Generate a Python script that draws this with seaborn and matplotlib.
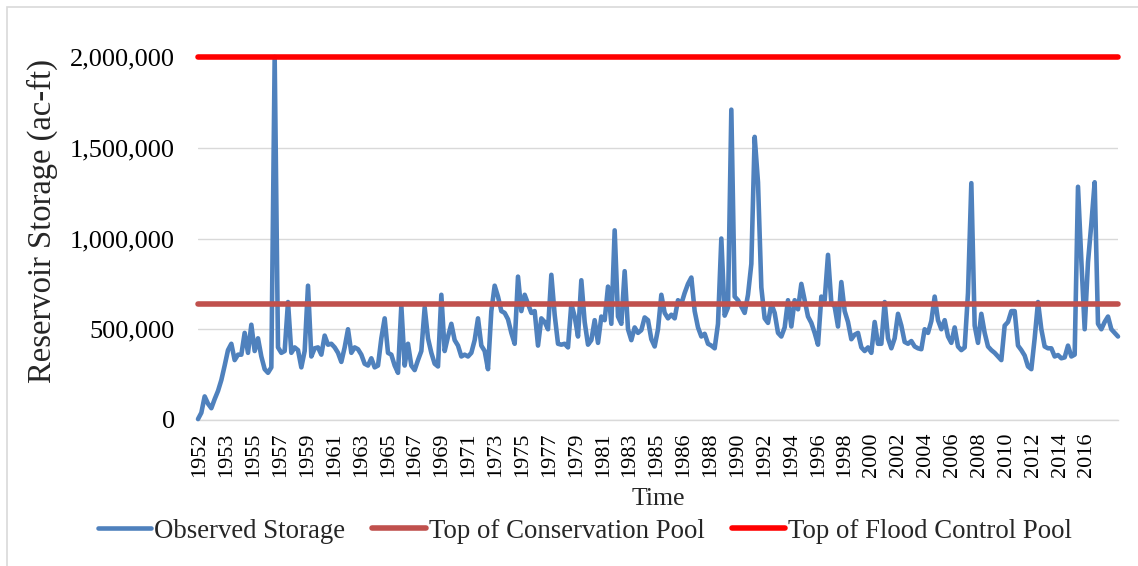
import numpy as np
import pandas as pd
import matplotlib
matplotlib.use("Agg")
import matplotlib.pyplot as plt
import seaborn as sns
from matplotlib.patches import Rectangle

# Observed storage (thousand ac-ft), sampled at equal steps along the time axis
storage_k = [
    5, 40, 130, 90, 65, 115, 160, 220, 300, 385,
    420, 330, 360, 360, 480, 370, 525, 380, 450, 350,
    280, 260, 290, 2000, 400, 370, 380, 650, 370, 400,
    385, 290, 380, 740, 350, 395, 400, 360, 465, 415,
    420, 400, 370, 320, 400, 500, 370, 400, 390, 360,
    310, 300, 340, 290, 300, 450, 560, 370, 360, 300,
    260, 630, 300, 420, 300, 275, 330, 380, 620, 450,
    370, 310, 295, 690, 380, 460, 530, 440, 410, 350,
    360, 350, 370, 440, 560, 410, 380, 280, 600, 740,
    680, 600, 590, 555, 480, 420, 790, 600, 690, 640,
    590, 600, 410, 560, 540, 500, 800, 580, 420, 415,
    420, 400, 640, 570, 460, 770, 540, 415, 440, 550,
    425, 570, 550, 735, 530, 1045, 570, 530, 820, 500,
    440, 510, 480, 495, 565, 550, 445, 405, 500, 690,
    590, 560, 580, 560, 660, 640, 700, 750, 785, 600,
    510, 460, 475, 420, 410, 395, 530, 1000, 575, 620,
    1710, 680, 660, 625, 590, 690, 860, 1560, 1310, 730,
    560, 535, 640, 590, 480, 460, 510, 660, 515, 660,
    610, 750, 660, 570, 535, 480, 415, 680, 660, 910,
    645, 625, 515, 760, 600, 540, 445, 470, 480, 400,
    380, 400, 370, 540, 420, 420, 650, 450, 395, 450,
    585, 520, 430, 420, 435, 405, 395, 390, 500, 480,
    545, 680, 550, 500, 550, 460, 425, 510, 405, 385,
    400, 700, 1305, 520, 425, 585, 480, 405, 385, 370,
    350, 330, 520, 540, 600, 600, 410, 385, 355, 295,
    280, 450, 650, 500, 405, 395, 395, 350, 358, 340,
    345, 410, 350, 360, 1285, 880, 500, 870, 1080, 1310,
    530, 500, 540, 570, 500, 480, 460,
]
conservation_pool = 638000
flood_control_pool = 2000000

year_labels = [
    "1952", "1953", "1955", "1957", "1959", "1961", "1963", "1965", "1967",
    "1969", "1971", "1973", "1975", "1977", "1979", "1981", "1983", "1985",
    "1986", "1988", "1990", "1992", "1994", "1996", "1998", "2000", "2002",
    "2004", "2006", "2008", "2010", "2012", "2014", "2016",
]
y_ticks = [0, 500000, 1000000, 1500000, 2000000]

n = len(storage_k)
step = np.arange(n)
df = pd.DataFrame({
    "step": step,
    "Observed Storage": np.array(storage_k) * 1000,
    "Top of Conservation Pool": np.full(n, conservation_pool),
    "Top of Flood Control Pool": np.full(n, flood_control_pool),
})

sns.set_theme(style="white")
plt.rcParams["font.family"] = ["Liberation Serif", "DejaVu Serif"]

fig = plt.figure(figsize=(11.38, 5.66), dpi=100)
ax = fig.add_axes([198 / 1138, 1 - 420 / 566, 920 / 1138, 363 / 566])

sns.lineplot(data=df, x="step", y="Observed Storage", ax=ax, color="#4F81BD",
             linewidth=3.3, label="Observed Storage", clip_on=False, zorder=3)
sns.lineplot(data=df, x="step", y="Top of Conservation Pool", ax=ax, color="#C0504D",
             linewidth=4.0, label="Top of Conservation Pool", clip_on=False, zorder=4)
sns.lineplot(data=df, x="step", y="Top of Flood Control Pool", ax=ax, color="#FF0000",
             linewidth=4.0, label="Top of Flood Control Pool", clip_on=False, zorder=4)

ax.set_xlim(0, n - 1)
ax.set_ylim(0, 2000000)
ax.set_yticks(y_ticks)
ax.set_yticklabels([f"{v:,}" for v in y_ticks], fontsize=19)
tick_pos = np.linspace(0.6, 266.7, len(year_labels))
ax.set_xticks(tick_pos)
ax.set_xticklabels(year_labels, rotation=90, fontsize=16)
ax.tick_params(axis="both", length=0, colors="#000000")
ax.tick_params(axis="y", pad=16.5)
ax.tick_params(axis="x", pad=9)

ax.grid(axis="y", color="#D9D9D9", linewidth=1.0)
ax.set_axisbelow(True)
for s in ["top", "right", "left"]:
    ax.spines[s].set_visible(False)
ax.spines["bottom"].set_color("#D9D9D9")
ax.spines["bottom"].set_linewidth(1.0)

ax.set_xlabel("Time", fontsize=18.5, labelpad=8)
ax.set_ylabel("Reservoir Storage (ac-ft)", fontsize=23.5)
ax.yaxis.set_label_coords((58 - 198) / 920, (420 - 221) / 363)

ax.legend(loc="center", bbox_to_anchor=(585 / 1138, 1 - 531 / 566),
          bbox_transform=fig.transFigure, ncol=3, frameon=False, fontsize=19.3,
          handlelength=2.0, handletextpad=0.12, columnspacing=1.0, borderaxespad=0)

fig.patches.append(Rectangle((7 / 1138, -0.1), 1.2, 1 - 7 / 566 + 0.1,
                             transform=fig.transFigure, fill=False,
                             edgecolor="#D9D9D9", linewidth=1.2))

fig.savefig("out.png", dpi=100)
